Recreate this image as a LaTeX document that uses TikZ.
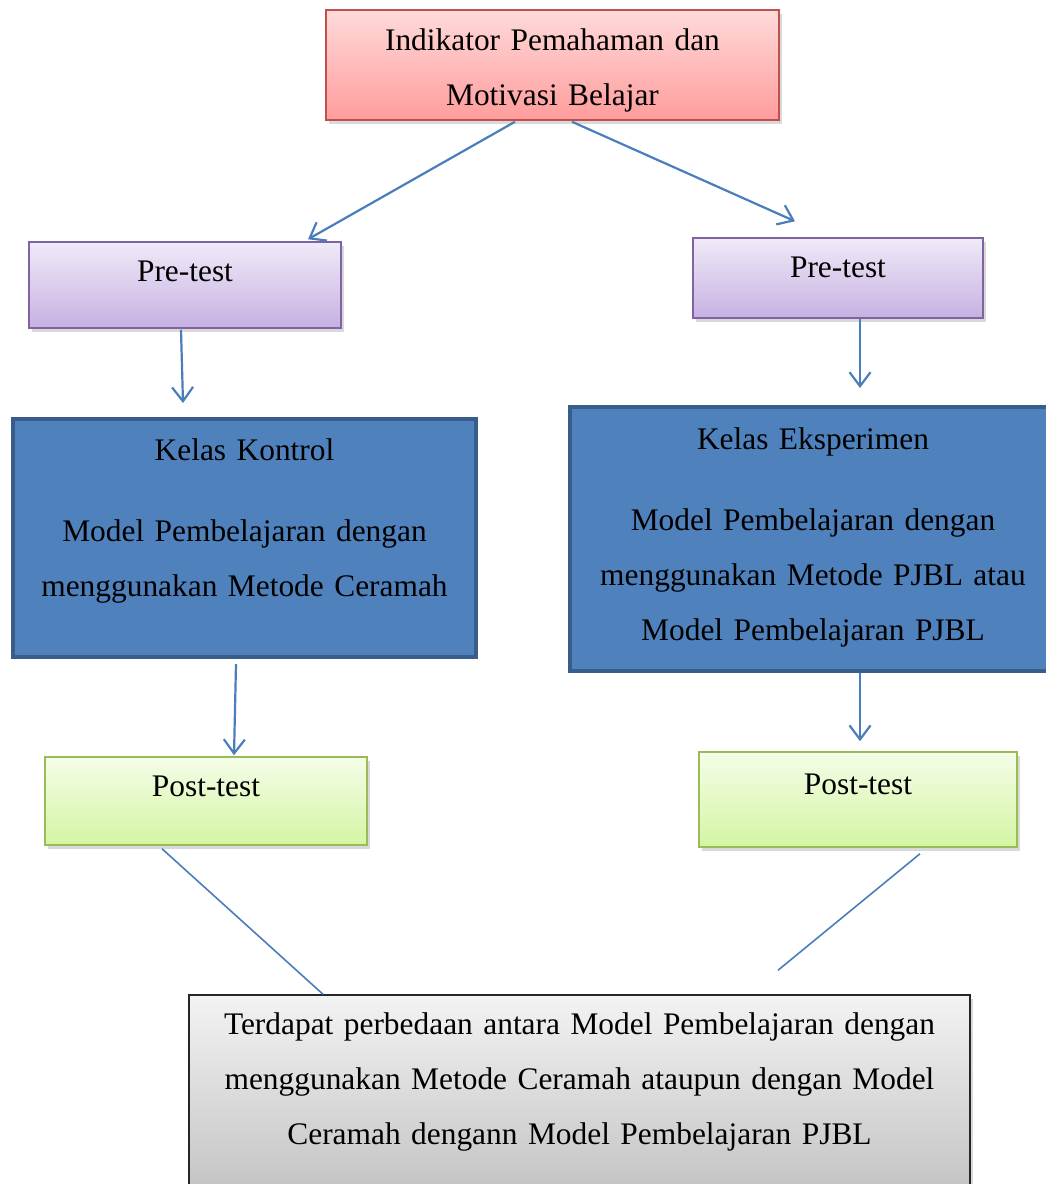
\documentclass[tikz,border=0pt]{standalone}
\usepackage{fontspec}
\setmainfont{Liberation Serif}
\usepackage{tikz}
\usetikzlibrary{arrows.meta, positioning, calc, shadows}
\usepackage{xcolor}

\definecolor{garisbiru}{HTML}{4A7EBB}
\definecolor{merahtepi}{HTML}{C0504D}
\definecolor{ungutepi}{HTML}{8064A2}
\definecolor{birutepi}{HTML}{385D8A}
\definecolor{biruisi}{HTML}{4F81BD}
\definecolor{hijautepi}{HTML}{9BBB59}

\begin{document}
\begin{tikzpicture}[
  x=1pt, y=-1pt,
  box/.style={rectangle, inner sep=0pt, align=center, line width=1.5pt,
              font=\fontsize{31.4}{55}\selectfont, text height=24pt},
  bayang/.style={drop shadow={opacity=0.3, shadow xshift=3pt, shadow yshift=-4pt}},
  indikator/.style={box, bayang, draw=merahtepi, top color={rgb,255:red,255;green,218;blue,218},
              bottom color={rgb,255:red,255;green,156;blue,156}},
  pretest/.style={box, bayang, draw=ungutepi, top color={rgb,255:red,240;green,234;blue,248},
              bottom color={rgb,255:red,198;green,177;blue,226}},
  kelas/.style={box, draw=birutepi, fill=biruisi, line width=4pt},
  posttest/.style={box, bayang, draw=hijautepi, top color={rgb,255:red,244;green,253;blue,232},
              bottom color={rgb,255:red,212;green,245;blue,163}},
  hasil/.style={box, bayang, draw=black!85, top color={rgb,255:red,243;green,243;blue,243},
              bottom color={rgb,255:red,190;green,190;blue,190}},
  arrow/.style={-{Straight Barb[length=14pt, width=21pt]}, draw=garisbiru, line width=2.2pt},
  garis/.style={draw=garisbiru, line width=1.6pt}
]

\clip (0,0) rectangle (1046,1184);
\useasboundingbox (0,0) rectangle (1046,1184);

% kotak-kotak
\node[indikator, minimum width=453pt, minimum height=110pt, text width=440pt, text depth=54pt]
  (ind) at (552.5,65) {Indikator Pemahaman dan\\Motivasi Belajar};

\node[pretest, minimum width=312pt, minimum height=86pt, text depth=32pt] (preL) at (185,285) {Pre-test};
\node[pretest, minimum width=290pt, minimum height=80pt, text depth=26pt] (preR) at (838,278) {Pre-test};

\node[kelas, minimum width=463pt, minimum height=238pt, text width=450pt, text depth=180pt]
  (kontrol) at (244.5,538) {Kelas Kontrol\\[26pt]Model Pembelajaran dengan\\menggunakan Metode Ceramah};
\node[kelas, minimum width=486pt, minimum height=264pt, text width=470pt, text depth=204pt]
  (eksp) at (813,539) {Kelas Eksperimen\\[26pt]Model Pembelajaran dengan\\menggunakan Metode PJBL atau\\Model Pembelajaran PJBL};

\node[posttest, minimum width=322pt, minimum height=88pt, text depth=34pt] (postL) at (206,801) {Post-test};
\node[posttest, minimum width=318pt, minimum height=95pt, text depth=35pt] (postR) at (858,799.5) {Post-test};

\node[hasil, minimum width=781pt, minimum height=220pt, text width=770pt, text depth=166pt]
  (hasil) at (579.5,1105) {Terdapat perbedaan antara Model Pembelajaran dengan\\menggunakan Metode Ceramah ataupun dengan Model\\Ceramah dengann Model Pembelajaran PJBL};

% panah
\draw[arrow] ($(ind.south)+(-37.5,1)$) -- ($(preL.north)+(123,-2)$);
\draw[arrow] ($(ind.south)+(19.5,1)$) -- ($(preR.north)+(-43,-16)$);
\draw[arrow] ($(preL.south)+(-4,1)$) -- ($(kontrol.north)+(-61.5,-14)$);
\draw[arrow] ($(preR.south)+(22,0)$) -- ($(eksp.north)+(47,-17)$);
\draw[arrow] ($(kontrol.south)+(-8.5,5)$) -- ($(postL.north)+(28,-1)$);
\draw[arrow] ($(eksp.south)+(47,0)$) -- ($(postR.north)+(2,-10)$);

\coordinate (ujungR) at ($(hasil.north)+(198.5,-24)$);
\draw[garis] ($(postL.south)+(-44,3)$) -- ($(hasil.north)+(-256.5,0)$);
\draw[garis] ($(postR.south)+(62,6)$) -- (ujungR);

\end{tikzpicture}
\end{document}
